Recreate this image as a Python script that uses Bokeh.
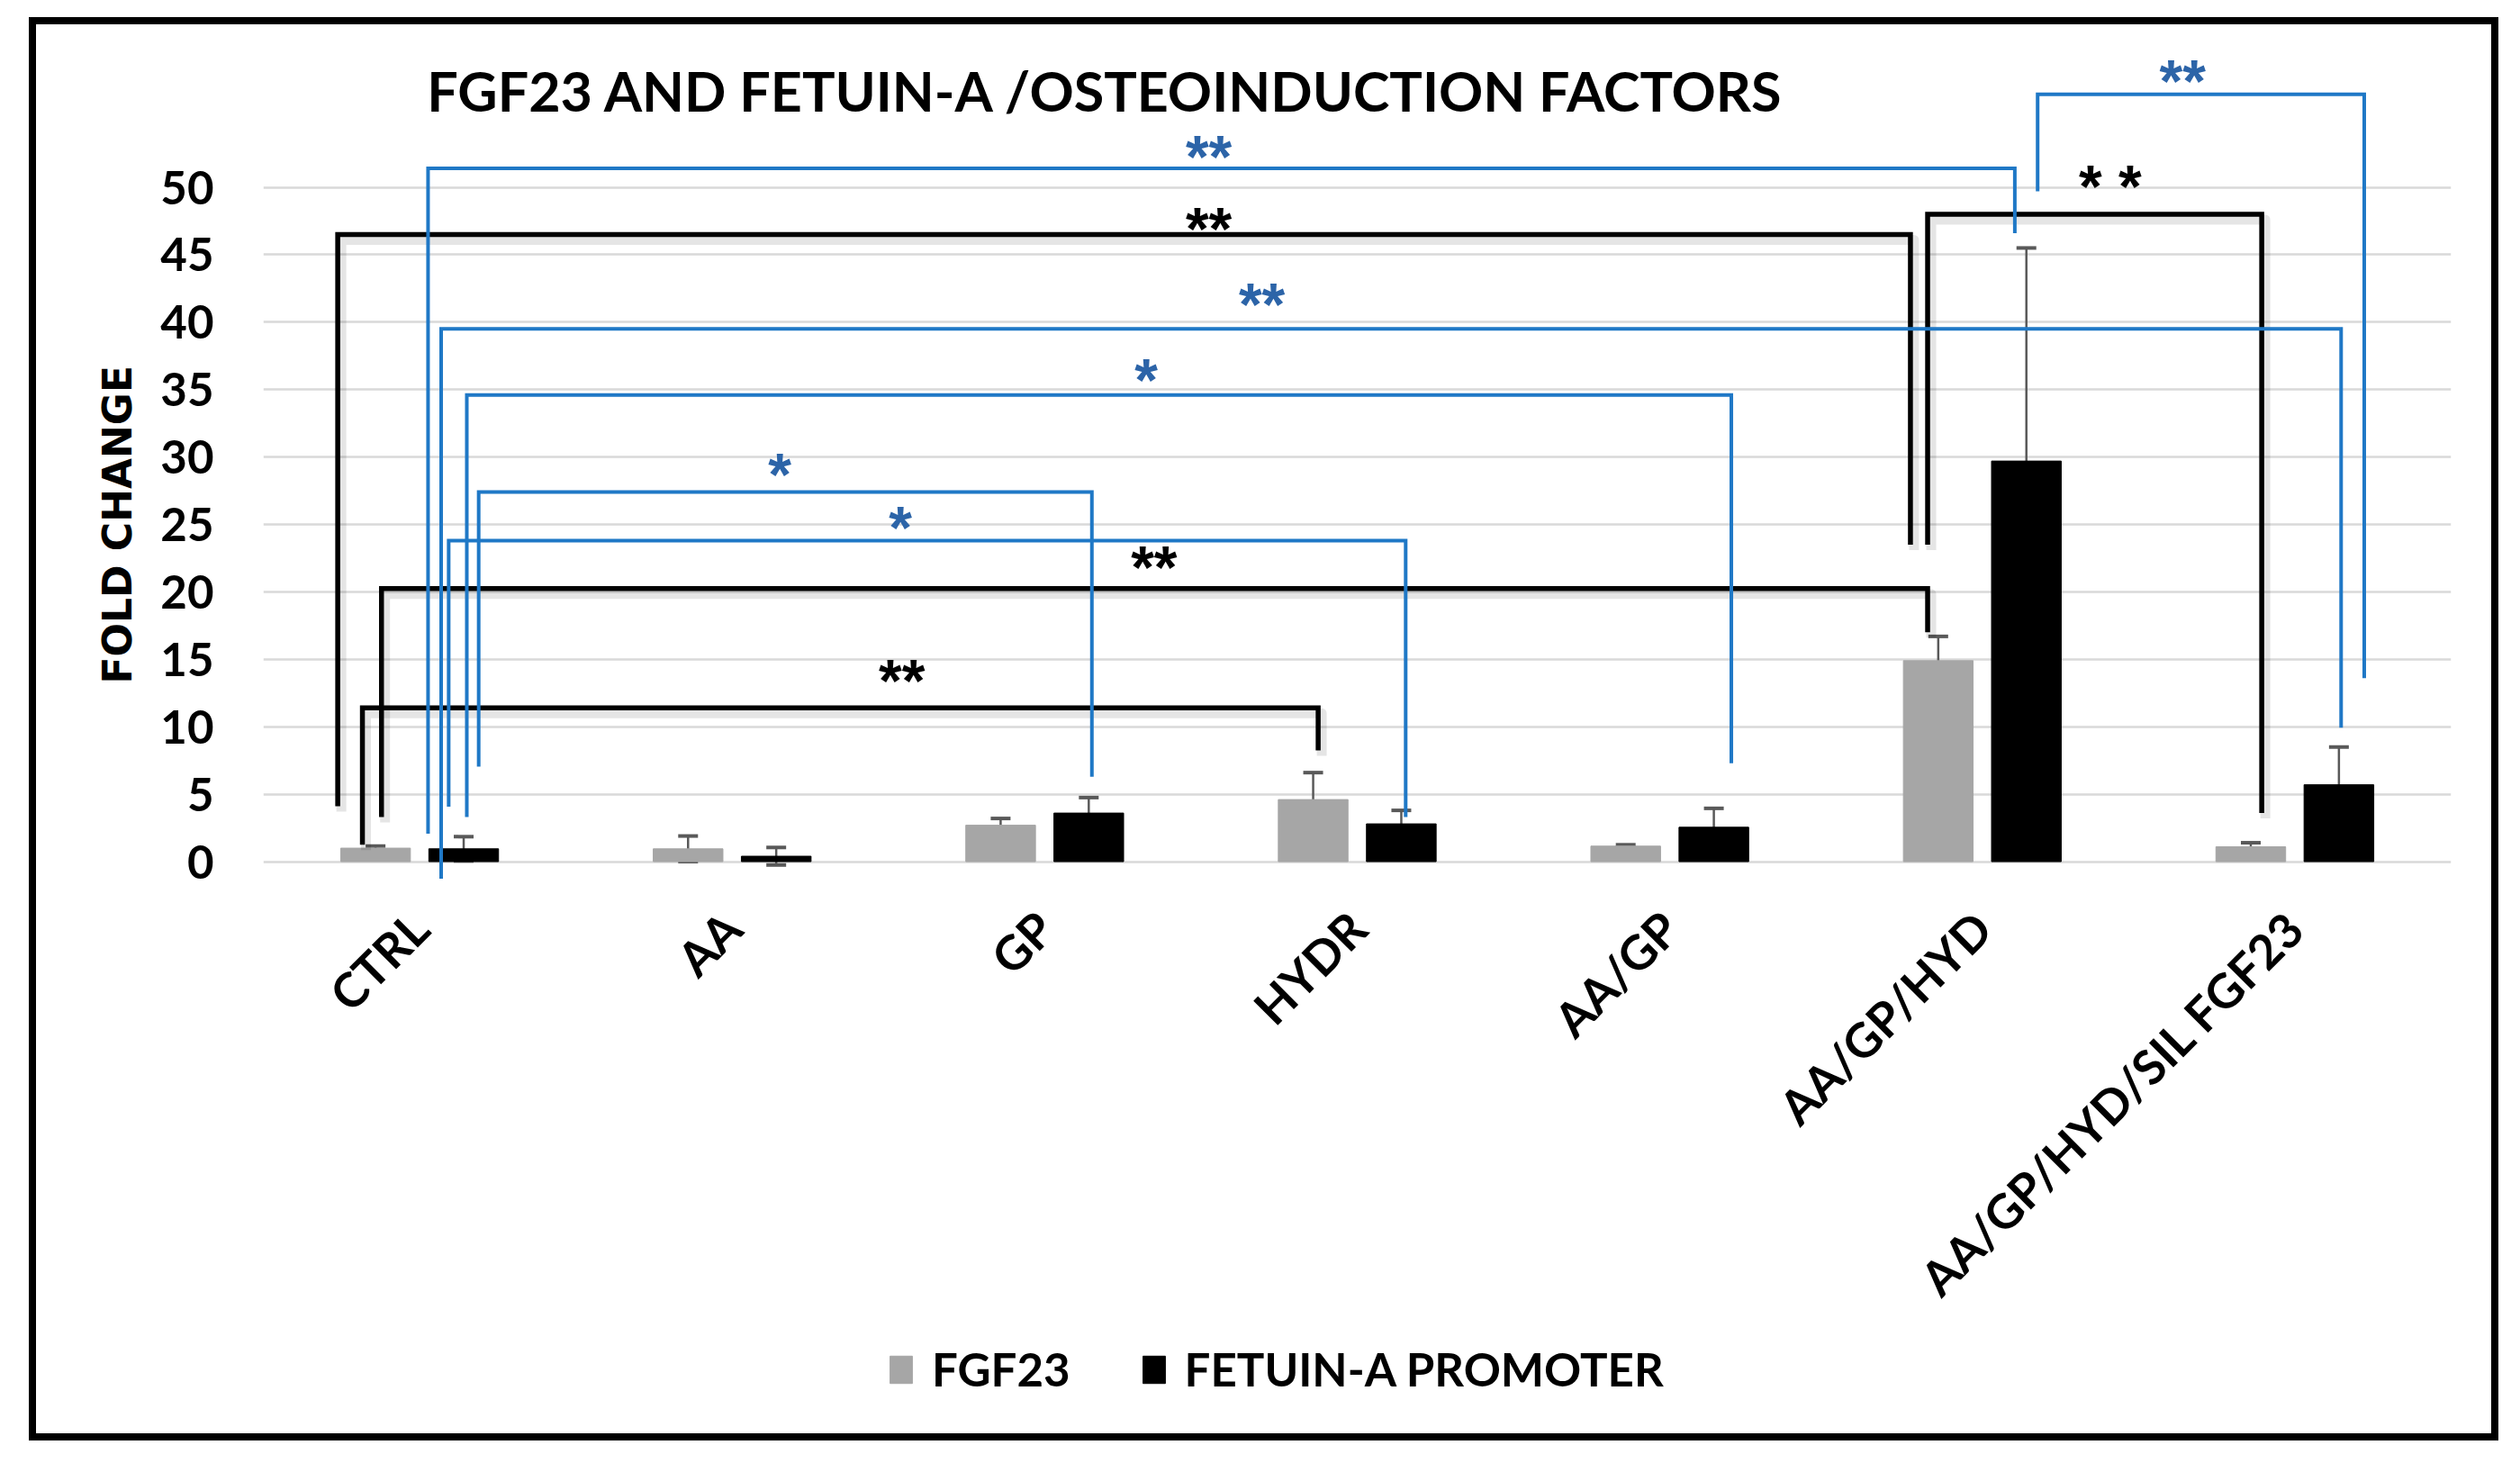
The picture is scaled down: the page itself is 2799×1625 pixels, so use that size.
from math import pi
from bokeh.plotting import figure
from bokeh.models import (ColumnDataSource, FixedTicker, Whisker, TeeHead, Legend,
                          LegendItem, Title, Range1d)
from bokeh.transform import dodge
from bokeh.core.properties import value
from bokeh.embed import file_html
from bokeh.resources import INLINE

# ---------------- data ----------------
title_text = "FGF23 AND FETUIN-A /OSTEOINDUCTION FACTORS"
y_title = "FOLD CHANGE"
categories = ["CTRL", "AA", "GP", "HYDR", "AA/GP", "AA/GP/HYD", "AA/GP/HYD/SIL FGF23"]
series_names = ["FGF23", "FETUIN-A PROMOTER"]
fgf23 = [1.0, 0.95, 2.7, 4.6, 1.15, 14.9, 1.1]
fgf23_err = [0.15, 0.95, 0.5, 2.0, 0.1, 1.8, 0.3]
fetuin = [0.95, 0.4, 3.6, 2.8, 2.55, 29.7, 5.7]
fetuin_err = [0.9, 0.65, 1.15, 1.0, 1.4, 15.8, 2.8]
y_ticks = [0, 5, 10, 15, 20, 25, 30, 35, 40, 45, 50]

# significance brackets (x in category units, categories centred at i + 0.5)
black_x1 = [0.238, 5.325, 0.378, 0.317]
black_x2 = [5.27, 6.394, 5.325, 3.375]
black_top = [46.5, 48.0, 20.25, 11.4]
black_end1 = [4.1, 23.5, 3.3, 1.25]
black_end2 = [23.5, 3.6, 17.0, 8.25]
black_marks = ["**", "* *", "**", "**"]
black_mark_x = [3.025, 5.909, 2.85, 2.043]
black_mark_y = [47.5, 50.7, 22.4, 14.0]

blue_x1 = [0.527, 5.677, 0.569, 0.651, 0.689, 0.593]
blue_x2 = [5.604, 6.722, 6.648, 4.697, 2.651, 3.655]
blue_top = [51.4, 56.9, 39.5, 34.6, 27.4, 23.8]
blue_end1 = [2.07, 49.7, -1.27, 3.3, 7.04, 4.08]
blue_end2 = [46.6, 13.6, 9.94, 7.3, 6.3, 3.3]
blue_marks = ["**", "**", "**", "*", "*", "*"]
blue_mark_x = [3.025, 6.141, 3.195, 2.825, 1.652, 2.038]
blue_mark_y = [52.9, 58.5, 41.9, 36.3, 29.3, 25.4]

# ---------------- styles ----------------
GRAY = "#A6A6A6"
BLACK = "#000000"
BLUE = "#1F78C6"
BLUE_TXT = "#2C64A8"
ERR = "#595959"
FONT = "Lato"
STAR_FONT = "Liberation Sans"
BAR_W = 0.223
OFF = 0.141
LABEL_Y = -4.3           # where the rotated category labels hang
TITLE_X, TITLE_Y = 2.696, 57.2

centers = [i + 0.5 for i in range(len(categories))]
src = ColumnDataSource(dict(
    x=centers,
    fgf=fgf23, fgf_lo=[v - e for v, e in zip(fgf23, fgf23_err)],
    fgf_hi=[v + e for v, e in zip(fgf23, fgf23_err)],
    fet=fetuin, fet_lo=[v - e for v, e in zip(fetuin, fetuin_err)],
    fet_hi=[v + e for v, e in zip(fetuin, fetuin_err)],
))

p = figure(width=2743, height=1581, x_range=Range1d(0, 7), y_range=Range1d(-42.42, 62.05),
           output_backend="svg", toolbar_location=None, title=None,
           min_border_left=252, min_border_right=61, min_border_top=0, min_border_bottom=16)
p.styles = {"border": "8px solid black", "margin-left": "32px", "margin-top": "19px"}
p.outline_line_color = None
p.background_fill_color = "white"
p.border_fill_color = "white"

# axes
p.xaxis.visible = False
p.yaxis.ticker = FixedTicker(ticks=y_ticks)
p.yaxis.axis_line_color = None
p.yaxis.major_tick_line_color = None
p.yaxis.minor_tick_line_color = None
p.yaxis.major_tick_out = 0
p.yaxis.major_label_standoff = 55
p.yaxis.major_label_text_font = FONT
p.yaxis.major_label_text_font_style = "bold"
p.yaxis.major_label_text_font_size = "51px"
p.yaxis.major_label_text_color = BLACK

p.add_layout(Title(text=y_title, align="left", offset=833, standoff=40,
                   text_font="DejaVu Sans", text_font_style="bold",
                   text_font_size="44px", text_color=BLACK), "left")

p.xgrid.visible = False
p.ygrid.ticker = FixedTicker(ticks=y_ticks)
p.ygrid.grid_line_color = "#D9D9D9"
p.ygrid.grid_line_width = 2.5

# bars
r_fgf = p.vbar(x=dodge("x", -OFF, range=p.x_range), top="fgf", width=BAR_W, source=src,
               fill_color=GRAY, line_color=GRAY)
r_fet = p.vbar(x=dodge("x", OFF, range=p.x_range), top="fet", width=BAR_W, source=src,
               fill_color=BLACK, line_color=BLACK)

for base, lo, hi in [(dodge("x", -OFF, range=p.x_range), "fgf_lo", "fgf_hi"),
                     (dodge("x", OFF, range=p.x_range), "fet_lo", "fet_hi")]:
    w = Whisker(source=src, base=base, lower=lo, upper=hi, line_color=ERR, line_width=2.5,
                upper_head=TeeHead(size=22, line_width=4, line_color=ERR),
                lower_head=TeeHead(size=22, line_width=4, line_color=ERR))
    p.add_layout(w)

# category labels (rotated, hanging below the baseline)
p.text(x=centers, y=[LABEL_Y] * len(centers), text=categories, angle=pi / 4,
       text_font=value(FONT), text_font_style="bold", text_font_size="53px",
       text_color=BLACK, text_align="right", text_baseline="middle")

# brackets
def bracket_paths(x1, x2, top, e1, e2):
    xs = [[a, a, b, b] for a, b in zip(x1, x2)]
    ys = [[c, t, t, d] for c, t, d in zip(e1, top, e2)]
    return xs, ys

bxs, bys = bracket_paths(black_x1, black_x2, black_top, black_end1, black_end2)
sdx, sdy = 4 / 347.1, -6 / 14.98
p.multi_line(xs=[[v + sdx for v in xx] for xx in bxs], ys=[[v + sdy for v in yy] for yy in bys],
             line_color=BLACK, line_alpha=0.10, line_width=11, line_join="round")
p.multi_line(xs=bxs, ys=bys, line_color=BLACK, line_width=5.5, line_join="miter")

uxs, uys = bracket_paths(blue_x1, blue_x2, blue_top, blue_end1, blue_end2)
p.multi_line(xs=uxs, ys=uys, line_color=BLUE, line_width=4, line_join="miter")

p.text(x=black_mark_x, y=black_mark_y, text=black_marks, text_color=BLACK,
       text_font=value(STAR_FONT), text_font_style="bold", text_font_size="66px",
       text_align="center", text_baseline="middle", y_offset=9)
p.text(x=blue_mark_x, y=blue_mark_y, text=blue_marks, text_color=BLUE_TXT,
       text_font=value(STAR_FONT), text_font_style="bold", text_font_size="66px",
       text_align="center", text_baseline="middle", y_offset=9)

# title
p.text(x=[TITLE_X], y=[TITLE_Y], text=[title_text], text_color=BLACK,
       text_font=value(FONT), text_font_style="bold", text_font_size="61px",
       text_align="center", text_baseline="middle")

# legend
legend = Legend(items=[LegendItem(label=series_names[0], renderers=[r_fgf]),
                       LegendItem(label=series_names[1], renderers=[r_fet])],
                orientation="horizontal", location=(693, 41),
                glyph_width=31, glyph_height=38, label_height=38, label_standoff=19, spacing=77,
                label_text_font=FONT, label_text_font_style="bold",
                label_text_font_size="51px", label_text_color=BLACK,
                border_line_color=None, background_fill_alpha=0,
                padding=0, margin=0)
p.add_layout(legend)

open("out.html", "w").write(file_html(p, INLINE))
